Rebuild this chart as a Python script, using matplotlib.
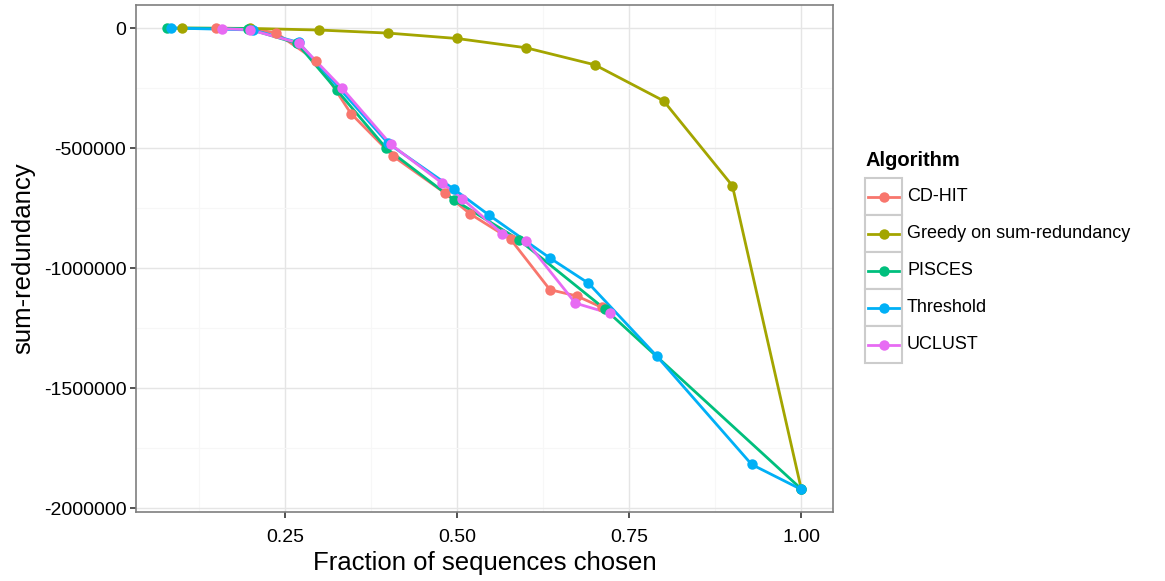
import matplotlib
matplotlib.use("Agg")
import matplotlib.pyplot as plt
from matplotlib.patches import Rectangle
from matplotlib.lines import Line2D

plt.rcParams['font.family'] = ['Liberation Sans', 'DejaVu Sans']

# data
algorithms = ["CD-HIT", "Greedy on sum-redundancy", "PISCES", "Threshold", "UCLUST"]
colors = ["#F8766D", "#A3A500", "#00BF7D", "#00B0F6", "#E76BF3"]

cdhit_x = [0.15, 0.2, 0.237, 0.296, 0.346, 0.407, 0.482, 0.519, 0.578, 0.635, 0.674, 0.710]
cdhit_y = [0, -3000, -20000, -136000, -356000, -533000, -686000, -774000, -880000, -1090000, -1116000, -1163000]

greedy_x = [0.1, 0.2, 0.3, 0.4, 0.5, 0.6, 0.7, 0.8, 0.9, 1.0]
greedy_y = [0, -1500, -8300, -21000, -43500, -82000, -153000, -303000, -657000, -1920000]

pisces_x = [0.079, 0.196, 0.268, 0.326, 0.397, 0.496, 0.590, 0.715, 1.0]
pisces_y = [0, -2000, -64000, -260000, -500000, -716000, -882000, -1171000, -1920000]

thresh_x = [0.085, 0.2035, 0.270, 0.400, 0.496, 0.546, 0.635, 0.691, 0.790, 0.928, 1.0]
thresh_y = [0, -8000, -60000, -480000, -672000, -778000, -958000, -1063000, -1366000, -1818000, -1922000]

uclust_x = [0.159, 0.199, 0.270, 0.333, 0.404, 0.479, 0.508, 0.566, 0.600, 0.672, 0.7225]
uclust_y = [-2500, -7000, -62000, -250000, -485000, -647000, -712000, -857000, -886000, -1146000, -1189000]

series_x = [cdhit_x, greedy_x, pisces_x, thresh_x, uclust_x]
series_y = [cdhit_y, greedy_y, pisces_y, thresh_y, uclust_y]

W, H = 1165, 581
fig = plt.figure(figsize=(W / 100, H / 100), dpi=100)


def fx(px):
    return px / W


def fy(py):
    return 1 - py / H


ax = fig.add_axes([fx(136), fy(512), fx(833) - fx(136), fy(5) - fy(512)])

LW = 2.0
MS = 7.5
for i in range(len(algorithms)):
    ax.plot(series_x[i], series_y[i], color=colors[i], lw=LW, zorder=3, solid_capstyle='butt')
for i in range(len(algorithms)):
    ax.plot(series_x[i], series_y[i], 'o', color=colors[i], ms=MS, mew=0, zorder=4)

ax.set_xlim(0.0339, 1.0461)
ax.set_ylim(-2016000, 96000)
ax.set_xticks([0.25, 0.5, 0.75, 1.0])
ax.set_xticklabels(["0.25", "0.50", "0.75", "1.00"])
ax.set_xticks([0.125, 0.375, 0.625, 0.875], minor=True)
ax.set_yticks([0, -500000, -1000000, -1500000, -2000000])
ax.set_yticklabels(["0", "-500000", "-1000000", "-1500000", "-2000000"])
ax.set_yticks([-250000, -750000, -1250000, -1750000], minor=True)

ax.grid(True, which='major', color='#E5E5E5', lw=1.0, zorder=0)
ax.grid(True, which='minor', color='#F7F7F7', lw=0.8, zorder=0)
ax.set_axisbelow(True)
for s in ax.spines.values():
    s.set_color('#7F7F7F')
    s.set_linewidth(1.2)
ax.tick_params(which='major', length=4, width=1.2, color='#333333', labelsize=14,
               labelcolor='black', pad=3)
ax.tick_params(axis='x', which='major', pad=8)
ax.tick_params(which='minor', length=0)

ax.set_xlabel("Fraction of sequences chosen", fontsize=18.5, labelpad=4)
ax.set_ylabel("sum-redundancy", fontsize=18.5, labelpad=6)

# legend drawn by hand, ggplot-style key boxes
fig.text(fx(866), fy(161), "Algorithm", fontsize=14.5, fontweight='bold',
         ha='left', va='center')
for i, name in enumerate(algorithms):
    top = 178 + i * 37
    cy = top + 18.5
    fig.add_artist(Rectangle((fx(865), fy(top + 37)), fx(902) - fx(865), fy(top) - fy(top + 37),
                             transform=fig.transFigure, facecolor='white',
                             edgecolor='#CCCCCC', lw=1.5))
    fig.add_artist(Line2D([fx(868), fx(899)], [fy(cy), fy(cy)], transform=fig.transFigure,
                          color=colors[i], lw=LW))
    fig.add_artist(Line2D([fx(883.5)], [fy(cy)], transform=fig.transFigure, marker='o',
                          color=colors[i], ms=MS, mew=0))
    fig.text(fx(907), fy(cy), name, fontsize=13, ha='left', va='center')

fig.savefig("out.png", dpi=100)
